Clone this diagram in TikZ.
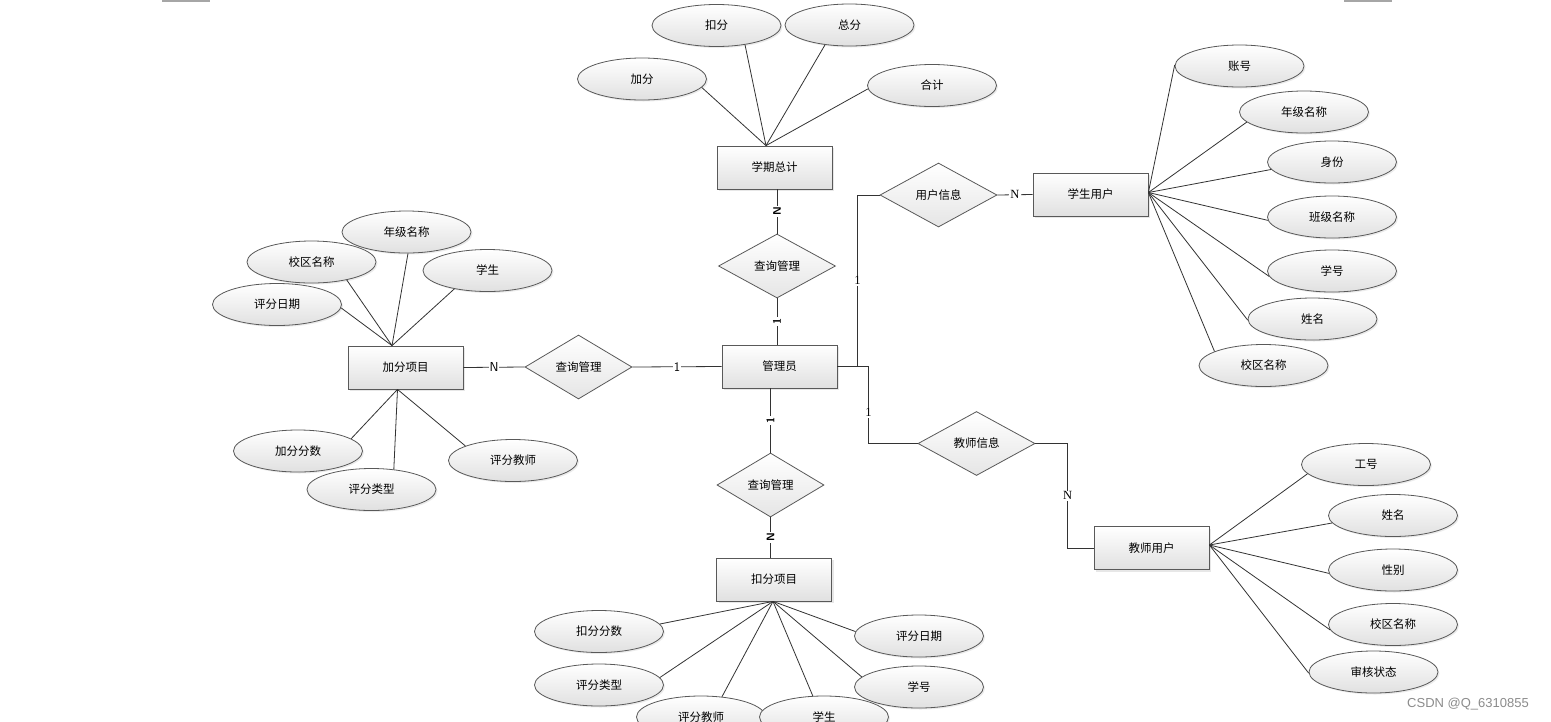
\documentclass[tikz,border=0pt]{standalone}
\usepackage{fontspec}
\newfontfamily\cjk{Noto Sans CJK SC}
\newfontfamily\wmfont{Liberation Sans}
\newfontfamily\cardfont{Liberation Serif}
\usetikzlibrary{shapes.geometric,shadows}

\begin{document}
\begin{tikzpicture}[x=1pt, y=-1pt,
	every node/.style={font=\cjk\fontsize{11.5}{13}\selectfont, inner sep=0pt},
	entity/.style={rectangle, draw=black!65, line width=0.8pt, minimum width=115pt, minimum height=43pt,
		top color=white, bottom color=black!12, drop shadow={shadow xshift=2pt, shadow yshift=-2pt, fill=black!18}},
	attr/.style={ellipse, draw=black!65, line width=0.8pt, minimum width=129pt, minimum height=42pt,
		top color=white, bottom color=black!12, drop shadow={shadow xshift=1.5pt, shadow yshift=-1.5pt, fill=black!15}},
	rel/.style={diamond, draw=black!65, line width=0.8pt, minimum width=117pt, minimum height=64pt,
		top color=white, bottom color=black!10},
	link/.style={draw=black!80, line width=0.8pt},
	card/.style={fill=white, inner sep=1pt, font=\sffamily\fontsize{13}{13}\selectfont},
	cardr/.style={fill=white, inner sep=1pt, font=\sffamily\bfseries\fontsize{11}{11}\selectfont, rotate=90},
	cards/.style={fill=white, inner sep=1pt, font=\cardfont\fontsize{12.5}{12.5}\selectfont}]

	\fill[white] (0,0) rectangle (1551,721);
	\useasboundingbox (0,0) rectangle (1551,721);
	\draw[black!35, line width=1.5pt] (162,0.75) -- (210,0.75);
	\draw[black!35, line width=1.5pt] (1344,0.75) -- (1392,0.75);

	% entities
	\node[entity] (xqzj) at (774.5,167.5) {学期总计};
	\node[entity] (gly) at (779.5,366.5) {管理员};
	\node[entity] (jfxm) at (405.5,367.5) {加分项目};
	\node[entity] (kfxm) at (774,579.5) {扣分项目};
	\node[entity] (xsyh) at (1090.5,194.5) {学生用户};
	\node[entity] (jsyh) at (1151.5,548) {教师用户};

	% relationships
	\node[rel] (cx1) at (777,266) {查询管理};
	\node[rel, minimum width=107pt] (cx2) at (578.5,367) {查询管理};
	\node[rel, minimum width=107pt] (cx3) at (770.5,485) {查询管理};
	\node[rel] (yhxx) at (938.5,195) {用户信息};
	\node[rel] (jsxx) at (976.5,443.5) {教师信息};

	% attributes
	\foreach \n/\x/\y/\a/\t in {a1/642/79/-8/加分, a2/716.5/25.5/-34/扣分, a3/849.5/25/-141/总分, a4/932/85.5/183/合计}
	{
		\node[attr] (\n) at (\x,\y) {\t};
		\draw[link] (\n.\a) -- ([xshift=-8.5pt]xqzj.north);
	}
	\foreach \n/\x/\y/\a/\t in {b1/311.5/262/-27/校区名称, b2/406.5/232/-86/年级名称, b3/277/304.5/-3/评分日期, b4/487.5/270.5/-151/学生}
	{
		\node[attr] (\n) at (\x,\y) {\t};
		\draw[link] (\n.\a) -- ([xshift=-13.5pt]jfxm.north);
	}
	\foreach \n/\x/\y/\a/\t in {c1/298/451/13/加分分数, c2/513/460.5/163/评分教师, c3/371.5/489.5/42/评分类型}
	{
		\node[attr] (\n) at (\x,\y) {\t};
		\draw[link] (\n.\a) -- ([xshift=-8pt]jfxm.south);
	}
	\foreach \n/\x/\y/\a/\t in {d1/599/631.5/7/扣分分数, d2/599/685/7/评分类型, d3/919/636/176/评分日期, d4/919/687/170/学号, d5/701/717/44/评分教师, d6/824/717/118/学生}
	{
		\node[attr] (\n) at (\x,\y) {\t};
		\draw[link] (\n.\a) -- ([xshift=-1pt]kfxm.south);
	}
	\foreach \n/\x/\y/\a/\t in {e1/1239.5/66/179/账号, e2/1304/112/190/年级名称, e3/1332/162/187/身份, e4/1332/217/183/班级名称, e5/1332/271/185/学号, e6/1312.5/319/181/姓名, e7/1263.5/365.5/164/校区名称}
	{
		\node[attr] (\n) at (\x,\y) {\t};
		\draw[link] (\n.\a) -- ([yshift=2pt]xsyh.east);
	}
	\foreach \n/\x/\y/\a/\t in {f1/1366/464.5/189/工号, f2/1393/515.5/187/姓名, f3/1393/570/183/性别, f4/1393/624.5/185/校区名称, f5/1373.5/672/181/审核状态}
	{
		\node[attr] (\n) at (\x,\y) {\t};
		\draw[link] (\n.\a) -- ([yshift=3pt]jsyh.east);
	}

	% relationship links
	\draw[link] (cx1.north) -- (cx1.north |- xqzj.south) node[cardr, midway] {N};
	\draw[link] (cx1.south) -- (cx1.south |- gly.north) node[cardr, midway] {1};
	\draw[link] (cx3.north |- gly.south) -- (cx3.north) node[cardr, midway] {1};
	\draw[link] (cx3.south) -- (cx3.south |- kfxm.north) node[cardr, midway] {N};
	\draw[link] (jfxm.east) -- (cx2.west) node[card, midway] {N};
	\draw[link] (cx2.east) -- (gly.west) node[card, midway] {1};
	\draw[link] (gly.east) -| ([xshift=-22pt]yhxx.west) node[cards, pos=0.75] {1} -- (yhxx.west);
	\draw[link] (yhxx.east) -- (xsyh.west) node[cards, midway] {N};
	\draw[link] (gly.east) -| ([xshift=-49pt]jsxx.west) node[cards, pos=0.8] {1} -- (jsxx.west);
	\draw[link] (jsxx.east) -| ([xshift=-26pt]jsyh.west) node[cards, pos=0.75] {N} -- (jsyh.west);

	\node[font=\wmfont\fontsize{13}{13}\selectfont, text=black!45] (wm) at (1468,704) {CSDN @Q\_6310855};
\end{tikzpicture}
\end{document}
